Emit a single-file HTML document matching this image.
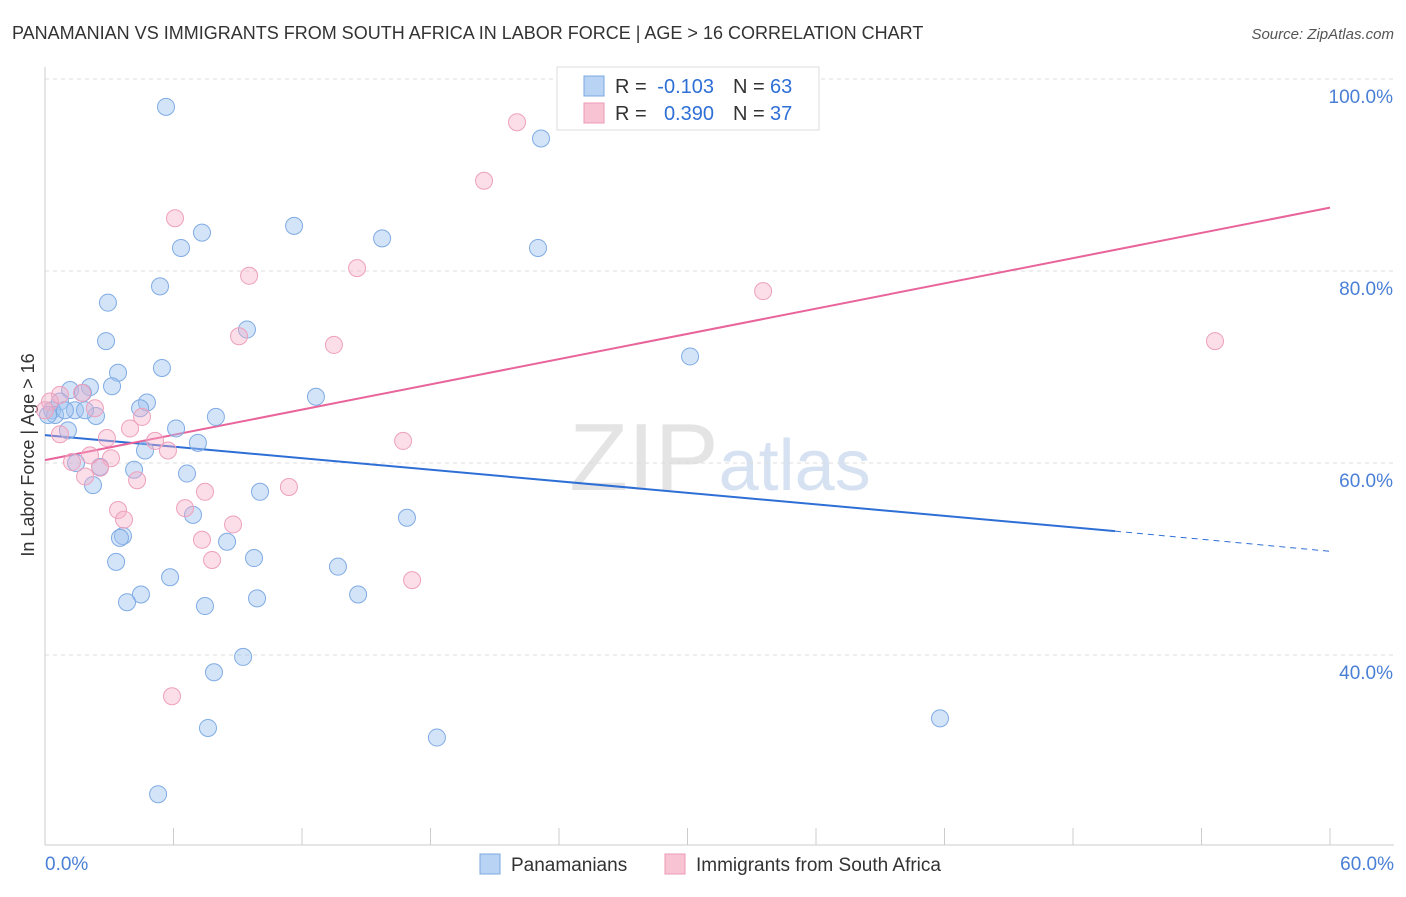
<!DOCTYPE html>
<html><head><meta charset="utf-8"><style>
body{margin:0;background:#fff;font-family:"Liberation Sans",sans-serif;}
svg text{font-family:"Liberation Sans",sans-serif;}
</style></head><body>
<svg id="chart" width="1406" height="892" xmlns="http://www.w3.org/2000/svg">
<text x="12" y="39" font-size="18" fill="#333">PANAMANIAN VS IMMIGRANTS FROM SOUTH AFRICA IN LABOR FORCE | AGE &gt; 16 CORRELATION CHART</text>
<text x="1394" y="39" font-size="15" fill="#555" text-anchor="end" font-style="italic">Source: ZipAtlas.com</text>
<text x="720" y="490" font-size="96" fill="#e4e4e4" text-anchor="middle" font-family="Liberation Serif">ZIP<tspan fill="#d6e2f2" font-family="Liberation Sans" font-size="72">atlas</tspan></text>
<text transform="translate(34,455) rotate(-90)" font-size="18" fill="#333" text-anchor="middle">In Labor Force | Age &gt; 16</text>
<g id="grid"></g><g id="axes"></g><g id="trend"></g><g id="points"></g>
<g>
<rect x="557" y="67" width="262" height="63" fill="#fff" stroke="#ddd"/>
<rect x="584" y="76" width="20" height="20" fill="#b8d3f4" stroke="#7aa8e0"/>
<rect x="584" y="103" width="20" height="20" fill="#f8c4d4" stroke="#ec9ab6"/>
<text x="615" y="93" font-size="20" fill="#333">R =</text>
<text x="714" y="93" font-size="20" fill="#2e6fd6" text-anchor="end">-0.103</text>
<text x="733" y="93" font-size="20" fill="#333">N =</text>
<text x="770" y="93" font-size="20" fill="#2e6fd6">63</text>
<text x="615" y="120" font-size="20" fill="#333">R =</text>
<text x="714" y="120" font-size="20" fill="#2e6fd6" text-anchor="end">0.390</text>
<text x="733" y="120" font-size="20" fill="#333">N =</text>
<text x="770" y="120" font-size="20" fill="#2e6fd6">37</text>
</g>
<g>
<rect x="480" y="854" width="20" height="20" fill="#b8d3f4" stroke="#7aa8e0"/>
<text x="511" y="871" font-size="19" fill="#333">Panamanians</text>
<rect x="665" y="854" width="20" height="20" fill="#f8c4d4" stroke="#ec9ab6"/>
<text x="696" y="871" font-size="19" fill="#333">Immigrants from South Africa</text>
</g>
</svg>
<script>
const xTickLabels=["0.0%","60.0%"];
const yTicks=[100,80,60,40];
const blueX=[5.65,23.16,11.63,7.33,6.35,15.74,23.02,5.37,2.94,2.85,9.43,5.46,3.41,30.12,1.17,2.10,3.13,1.77,4.76,4.44,0.70,0.33,0.47,1.40,2.38,7.98,12.65,6.12,7.14,1.07,4.67,6.63,4.16,1.45,2.57,2.24,10.04,6.91,16.90,3.64,3.50,8.50,3.32,9.76,13.68,5.84,4.48,3.83,7.47,9.90,14.62,9.25,7.89,41.79,7.61,18.30,5.28,0.14,0.93,1.87];
const blueY=[97.1,93.8,84.7,84.0,82.4,83.4,82.4,78.4,76.7,72.7,73.9,69.9,69.4,71.1,67.6,67.9,68.0,67.3,66.3,65.7,66.4,65.5,65.0,65.5,64.9,64.8,66.9,63.6,62.1,63.4,61.3,58.9,59.3,60.0,59.6,57.7,57.0,54.6,54.3,52.4,52.2,51.8,49.7,50.1,49.2,48.1,46.3,45.5,45.1,45.9,46.3,39.8,38.2,33.4,32.4,31.4,25.5,65.0,65.5,65.5];
const pinkX=[22.04,20.50,6.07,9.53,14.57,33.53,54.63,13.49,9.06,0.70,1.73,2.33,4.53,3.97,2.89,5.14,5.74,0.70,2.10,3.08,1.26,2.57,1.87,4.30,16.72,11.39,7.47,6.54,3.41,3.69,8.78,7.33,7.80,17.14,5.93,0.23,0];
const pinkY=[95.5,89.4,85.5,79.5,80.3,77.9,72.7,72.3,73.2,67.1,67.3,65.7,64.8,63.6,62.6,62.3,61.3,63.0,60.8,60.5,60.1,59.5,58.6,58.2,62.3,57.5,57.0,55.3,55.1,54.1,53.6,52.0,49.9,47.8,35.7,66.4,65.5];
const blueTrend=[62.9,52.9,50.8];
const pinkTrend=[60.3,86.6];
const NS="http://www.w3.org/2000/svg";
const sx=v=>45+v/60*1285;
const sy=v=>79+(100-v)*9.6;
function mk(tag,attrs,parent){const e=document.createElementNS(NS,tag);for(const k in attrs)e.setAttribute(k,attrs[k]);parent.appendChild(e);return e;}
const grid=document.getElementById('grid'),axes=document.getElementById('axes'),trend=document.getElementById('trend'),pts=document.getElementById('points');
yTicks.forEach(t=>{
 const l=mk('line',{x1:45,x2:1394,y1:sy(t),y2:sy(t),stroke:'#ddd','stroke-dasharray':'4,4'},grid);
 
 
 const tx=mk('text',{x:1393,y:sy(t)+24,'font-size':19,fill:'#4a7fd6','text-anchor':'end'},axes);
 tx.textContent=t.toFixed(1)+'%';
 
 
});
const xa=mk('line',{x1:45,x2:1394,y1:845,y2:845,stroke:'#ccc'},axes);


const ya=mk('line',{x1:45,x2:45,y1:67,y2:845,stroke:'#ccc'},axes);


for(let i=0;i<=10;i++){const t=mk('line',{x1:sx(i*6),x2:sx(i*6),y1:828,y2:845,stroke:'#ccc'},axes);
 
 }
[[0,'start',45],[60,'end',1394]].forEach((d,i)=>{const t=mk('text',{x:d[2],y:870,'font-size':19,fill:'#4a7fd6','text-anchor':d[1]},axes);t.textContent=xTickLabels[i];
 
 });
function dot(x,y,fill,stroke,name){const c=mk('circle',{cx:sx(x),cy:sy(y),r:8.5,fill:fill,stroke:stroke,'stroke-width':1},pts);
 
 }
blueX.forEach((x,i)=>dot(x,blueY[i],'rgba(160,196,240,0.45)','#7fabe4','panamanian-point'));
pinkX.forEach((x,i)=>dot(x,pinkY[i],'rgba(246,172,198,0.4)','#eea0bc','south-africa-point'));
const b1=mk('line',{x1:sx(0),y1:sy(blueTrend[0]),x2:sx(49.96),y2:sy(blueTrend[1]),stroke:'#2e6fd6','stroke-width':2},trend);


const b2=mk('line',{x1:sx(49.96),y1:sy(blueTrend[1]),x2:sx(60),y2:sy(blueTrend[2]),stroke:'#2e6fd6','stroke-width':1,'stroke-dasharray':'6,5'},trend);


const p1=mk('line',{x1:sx(0),y1:sy(pinkTrend[0]),x2:sx(60),y2:sy(pinkTrend[1]),stroke:'#e8649a','stroke-width':2},trend);


</script>
</body></html>
